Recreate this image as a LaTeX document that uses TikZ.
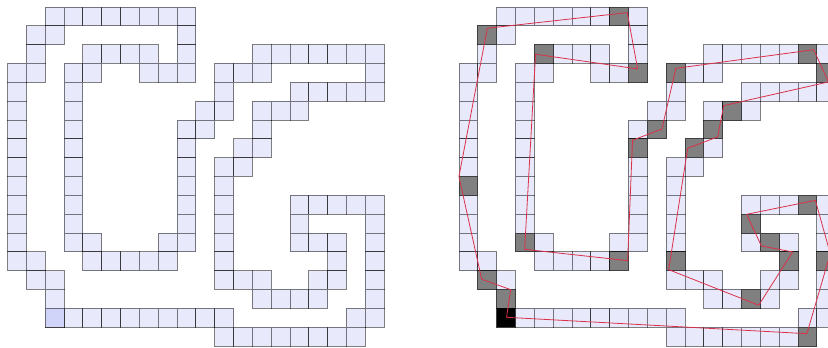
\documentclass[tikz,border=0pt]{standalone}
\definecolor{contourred}{RGB}{220,48,72}
\definecolor{cellblue}{RGB}{232,234,252}
\definecolor{startblue}{RGB}{208,212,248}
\tikzset{
  cell/.style={draw=black, draw opacity=0.5, fill=cellblue, line width=0.55pt,
    minimum size=0.5cm, inner sep=0pt, outer sep=0pt},
  startcell/.style={cell, fill=startblue},
  hitcell/.style={cell, fill=gray},
  firstcell/.style={cell, fill=black},
  contour/.style={draw=contourred, line width=0.6pt, line join=round}
}
\newcommand{\polycells}[1]{
  \foreach \r/\cols in {0/{2,...,9},1/{1,2,9},2/{1,4,5,6,7,9,13,14,15,16,17,18,19},
      3/{0,1,3,4,7,8,9,11,12,13,19},4/{0,3,11,15,16,17,18,19},5/{0,3,10,11,13,14,15},
      6/{0,3,9,10,13},7/{0,3,9,12,13},8/{0,3,9,11,12},9/{0,3,9,11},
      10/{0,3,9,11,15,16,17,18,19},11/{0,3,9,11,15,19},12/{0,3,4,8,9,11,15,16,17,19},
      13/{0,1,4,5,6,7,8,11,17,19},14/{1,2,11,12,13,16,17,19},15/{2,13,14,15,16,19},
      16/{2,...,11,18,19},17/{11,...,18}}{
    \foreach \c in \cols {
      \node[cell] (#1\c-\r) at (\c,-\r) {};
    }
  }
}
\begin{document}
\begin{tikzpicture}[x=0.5cm, y=0.5cm]
  \useasboundingbox (-0.9,0.87) rectangle (43.07,-17.56);
  \clip (-0.9,0.87) rectangle (43.07,-17.56);
  % plain polyomino
  \begin{scope}
    \polycells{a}
    \node[startcell] (astart) at (2,-16) {};
  \end{scope}
  % polyomino with contour points
  \begin{scope}[xshift=11.985cm]
    \polycells{b}
    \foreach \c/\r in {8/0,1/1,4/2,18/2,9/3,11/3,19/3,14/5,10/6,13/6,9/7,12/7,0/9,
        18/10,15/11,3/12,16/12,8/13,11/13,17/13,19/13,1/14,15/15,2/15,18/17}{
      \node[hitcell] (h\c-\r) at (\c,-\r) {};
    }
    \node[firstcell] (bstart) at (2,-16) {};
    \coordinate (v1) at (2.03,-15.98);
    \coordinate (v2) at (17.98,-16.85);
    \coordinate (v3) at (19.22,-12.60);
    \coordinate (v4) at (18.43,-9.77);
    \coordinate (v5) at (14.78,-10.51);
    \coordinate (v6) at (15.56,-12.19);
    \coordinate (v7) at (17.22,-12.51);
    \coordinate (v8) at (15.42,-15.34);
    \coordinate (v9) at (10.64,-13.45);
    \coordinate (v10) at (11.65,-7.00);
    \coordinate (v11) at (13.24,-6.40);
    \coordinate (v12) at (13.56,-4.74);
    \coordinate (v13) at (19.13,-3.48);
    \coordinate (v14) at (18.34,-1.77);
    \coordinate (v15) at (11.02,-2.76);
    \coordinate (v16) at (10.28,-5.98);
    \coordinate (v17) at (8.72,-6.58);
    \coordinate (v18) at (8.46,-12.97);
    \coordinate (v19) at (2.99,-12.37);
    \coordinate (v20) at (3.57,-2.01);
    \coordinate (v21) at (8.99,-2.79);
    \coordinate (v22) at (8.44,0.20);
    \coordinate (v23) at (1.01,-0.63);
    \coordinate (v24) at (-0.50,-8.51);
    \coordinate (v25) at (0.71,-13.96);
    \coordinate (v26) at (2.25,-14.51);
    \draw[contour] (v1) -- (v2) -- (v3) -- (v4) -- (v5) -- (v6) -- (v7) -- (v8) -- (v9)
      -- (v10) -- (v11) -- (v12) -- (v13) -- (v14) -- (v15) -- (v16) -- (v17) -- (v18)
      -- (v19) -- (v20) -- (v21) -- (v22) -- (v23) -- (v24) -- (v25) -- (v26) -- cycle;
  \end{scope}
\end{tikzpicture}
\end{document}
